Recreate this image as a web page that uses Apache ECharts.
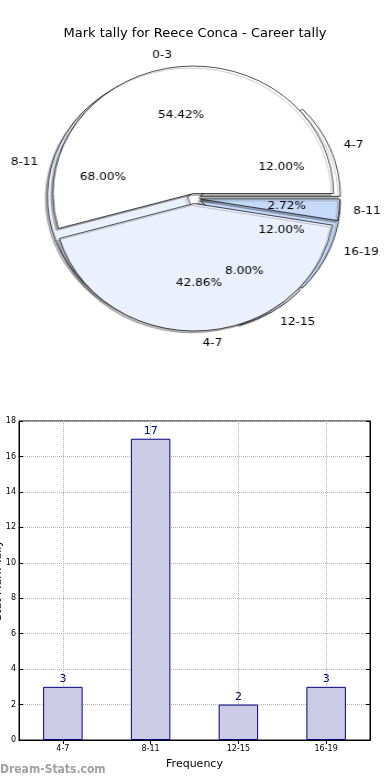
<!DOCTYPE html>
<html>
<head>
<meta charset="utf-8">
<script src="https://cdn.jsdelivr.net/npm/echarts@6/dist/echarts.min.js"></script>
<style>
html,body{margin:0;padding:0;background:#fff;}
#main{position:absolute;left:0;top:0;width:390px;height:780px;}
#pie{position:absolute;left:0;top:0;width:390px;height:390px;transform:scaleX(1.1);transform-origin:194px 198px;}
</style>
</head>
<body>
<div id="main"></div>
<div id="pie"></div>
<script>
// ---- data ----
const titleText = 'Mark tally for Reece Conca - Career tally';
// outer (career) pie
const careerNames = ['4-7', '8-11', '12-15', '16-19'];
const careerValues = [3, 17, 2, 3];
const careerColors = ['#ffffff', '#eaf0fc', '#eaf0fc', '#c5d9f9'];
// overlaid pie
const otherNames = ['0-3', '4-7', '8-11'];
const otherValues = [80, 63, 4];
const otherColors = ['#ffffff', '#eaf0fc', '#c5d9f9'];
// bar chart
const barCategories = ['4-7', '8-11', '12-15', '16-19'];
const barValues = [3, 17, 2, 3];
const yTicks = {min: 0, max: 18, interval: 2};
const xAxisName = 'Frequency';
const yAxisName = 'Stat Mark Tally';
const watermark = 'Dream-Stats.com';

const FONT = 'DejaVu Sans';
const R = 127.5;
const C = [194, 198.5];

function pieData(names, values, colors, transparent) {
  return names.map((n, i) => ({
    name: n, value: values[i], selected: true,
    itemStyle: transparent ? {color: 'rgba(0,0,0,0)', borderWidth: 0, shadowColor: 'rgba(0,0,0,0)'} : {color: colors[i]}
  }));
}

function shapeSeries(names, values, colors, offset, z) {
  return {
    type: 'pie', center: C, radius: [0, R], startAngle: 0, clockwise: false,
    selectedMode: 'multiple', selectedOffset: offset, silent: true, z: z,
    avoidLabelOverlap: false, animation: false,
    label: {show: false}, labelLine: {show: false},
    itemStyle: {borderColor: '#000', borderWidth: 0.7, shadowColor: 'rgba(0,0,0,0.28)', shadowBlur: 0, shadowOffsetX: -2, shadowOffsetY: 2},
    emphasis: {disabled: true},
    data: pieData(names, values, colors, false)
  };
}
function nameLabelSeries(names, values, offset) {
  return {
    type: 'pie', center: C, radius: [0, R], startAngle: 0, clockwise: false,
    selectedMode: 'multiple', selectedOffset: offset, silent: true, z: 10,
    avoidLabelOverlap: false, animation: false,
    label: {show: true, position: 'outside', formatter: '{b}', fontFamily: FONT, fontSize: 11, color: '#000', distanceToLabelLine: 0},
    labelLine: {show: false, length: 0.1 * R, length2: 0},
    emphasis: {disabled: true},
    data: pieData(names, values, null, true)
  };
}
function pctLabelSeries(names, values, offset) {
  return {
    type: 'pie', center: C, radius: [0, 1.2 * R], startAngle: 0, clockwise: false,
    selectedMode: 'multiple', selectedOffset: offset, silent: true, z: 10,
    avoidLabelOverlap: false, animation: false,
    label: {show: true, position: 'inside', formatter: p => p.percent.toFixed(2) + '%', fontFamily: FONT, fontSize: 11, color: '#000'},
    labelLine: {show: false},
    emphasis: {disabled: true},
    data: pieData(names, values, null, true)
  };
}

const pie = echarts.init(document.getElementById('pie'), null, {renderer: 'canvas'});
pie.setOption({
  backgroundColor: 'transparent',
  animation: false,
  series: [
    shapeSeries(careerNames, careerValues, careerColors, 6, 2),
    shapeSeries(otherNames, otherValues, otherColors, 5, 3),
    nameLabelSeries(careerNames, careerValues, 6),
    pctLabelSeries(careerNames, careerValues, 6),
    nameLabelSeries(otherNames, otherValues, 5),
    pctLabelSeries(otherNames, otherValues, 5)
  ]
});

const main = echarts.init(document.getElementById('main'), null, {renderer: 'canvas'});
main.setOption({
  backgroundColor: '#fff',
  animation: false,
  title: {text: titleText, left: 'center', top: 22, textStyle: {fontFamily: FONT, fontSize: 13, fontWeight: 'normal', color: '#000'}},
  graphic: [{type: 'text', left: 0, top: 764, style: {text: watermark, fontFamily: 'DejaVu Sans Condensed', fontSize: 12, fontWeight: 'bold', fill: '#a0a0a0'}}],
  grid: {left: 19, right: 20, top: 421, bottom: 40, show: true, borderColor: '#000', borderWidth: 1, containLabel: false, outerBoundsMode: 'none'},
  xAxis: [{
    type: 'category', data: barCategories, position: 'bottom',
    name: xAxisName, nameLocation: 'middle', nameGap: 19, nameTextStyle: {fontFamily: FONT, fontSize: 11, color: '#000'},
    axisLine: {lineStyle: {color: '#000'}},
    axisTick: {show: true, inside: true, alignWithLabel: true, length: 4, lineStyle: {color: '#000'}},
    axisLabel: {fontFamily: FONT, fontSize: 8, color: '#000', margin: 5},
    splitLine: {show: true, alignWithLabel: true, lineStyle: {color: '#b0b0b0', type: 'dotted'}}
  }, {
    type: 'category', data: barCategories, position: 'top',
    axisLine: {lineStyle: {color: '#000'}},
    axisTick: {show: true, inside: true, alignWithLabel: true, length: 4, lineStyle: {color: '#000'}},
    axisLabel: {show: false}, splitLine: {show: false}
  }],
  yAxis: [{
    type: 'value', min: yTicks.min, max: yTicks.max, interval: yTicks.interval, position: 'left',
    name: yAxisName, nameLocation: 'middle', nameGap: 15, nameMoveOverlap: false,
    nameTextStyle: {fontFamily: FONT, fontSize: 11, color: '#000'},
    axisLine: {show: true, lineStyle: {color: '#000'}},
    axisTick: {show: true, inside: true, length: 4, lineStyle: {color: '#000'}},
    axisLabel: {fontFamily: FONT, fontSize: 8, color: '#000', margin: 3},
    splitLine: {show: true, lineStyle: {color: '#b0b0b0', type: 'dotted'}}
  }, {
    type: 'value', min: yTicks.min, max: yTicks.max, interval: yTicks.interval, position: 'right',
    axisLine: {show: true, lineStyle: {color: '#000'}},
    axisTick: {show: true, inside: true, length: 4, lineStyle: {color: '#000'}},
    axisLabel: {show: false}, splitLine: {show: false}
  }],
  series: [{
    type: 'bar', data: barValues, xAxisIndex: 0, yAxisIndex: 0, barWidth: '45%',
    itemStyle: {color: '#ccccE6', borderColor: '#000080', borderWidth: 1},
    label: {show: true, position: 'top', distance: 2, fontFamily: FONT, fontSize: 11, color: '#000080'},
    emphasis: {disabled: true}
  }]
});
</script>
</body>
</html>
